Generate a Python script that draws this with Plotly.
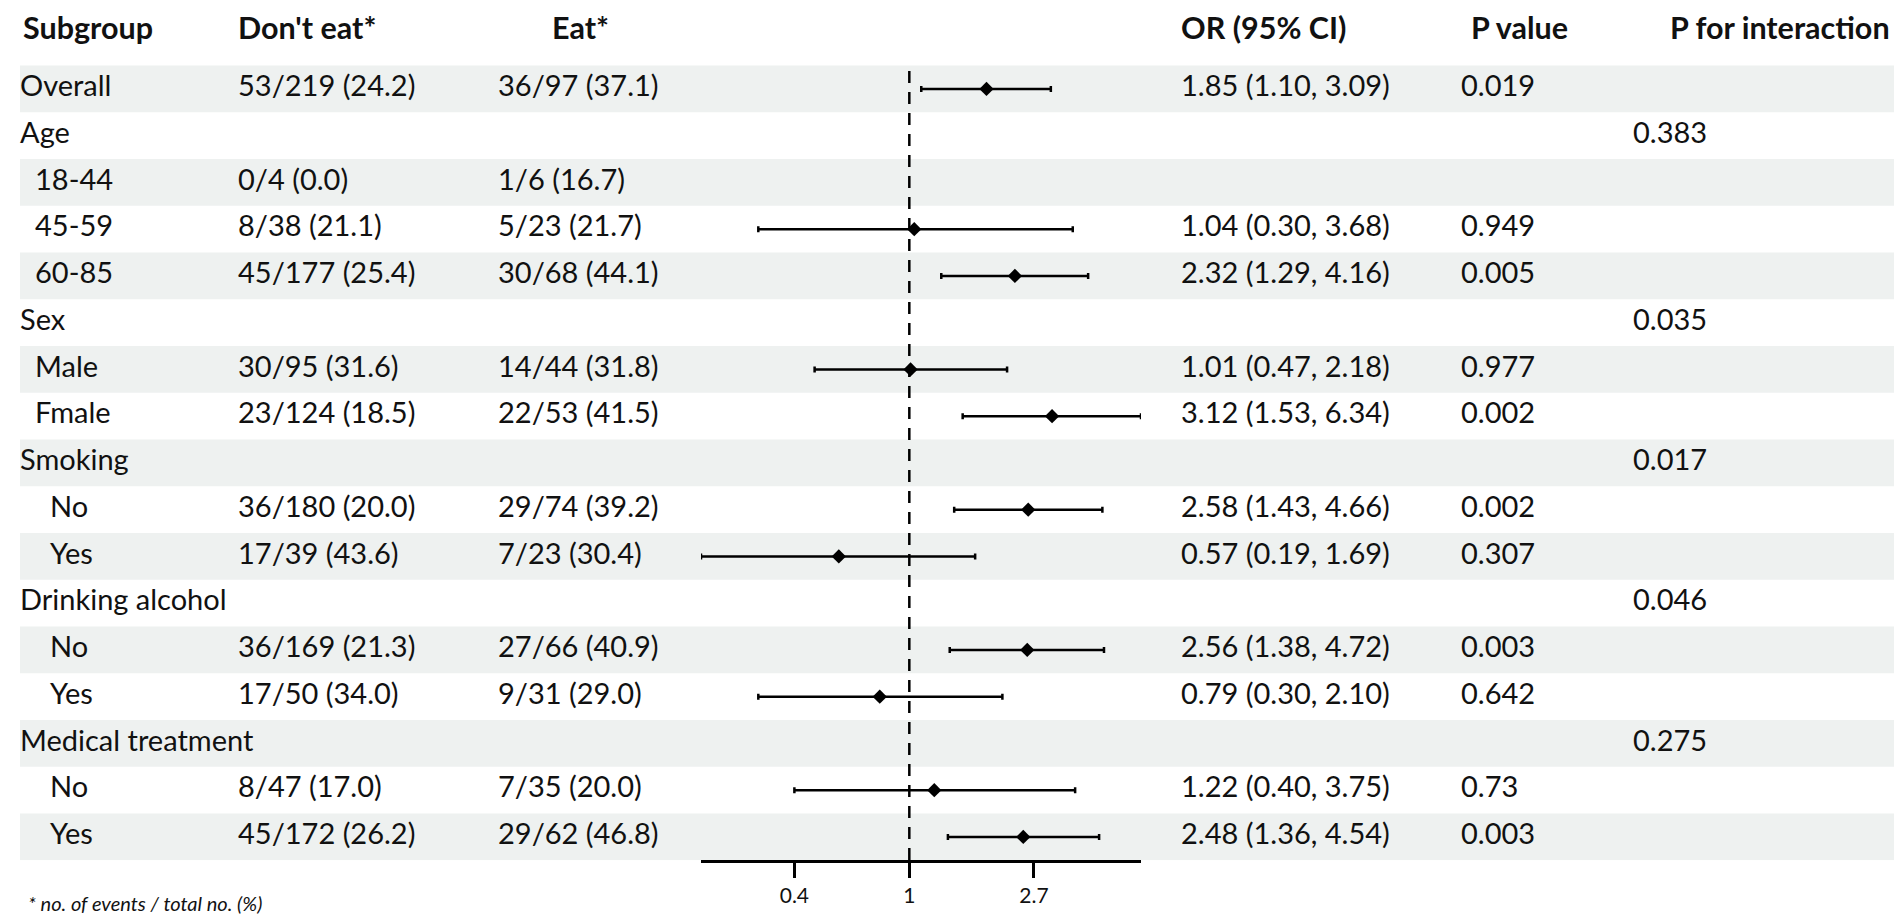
import math
import plotly.graph_objects as go

# --- table content ---
subgroups = ["Overall", "Age", "18-44", "45-59", "60-85", "Sex", "Male", "Fmale",
             "Smoking", "No", "Yes", "Drinking alcohol", "No", "Yes",
             "Medical treatment", "No", "Yes"]
levels = [0, 0, 1, 1, 1, 0, 1, 1, 0, 2, 2, 0, 2, 2, 0, 2, 2]
dont_eat = ["53/219 (24.2)", "", "0/4 (0.0)", "8/38 (21.1)", "45/177 (25.4)", "",
            "30/95 (31.6)", "23/124 (18.5)", "", "36/180 (20.0)", "17/39 (43.6)", "",
            "36/169 (21.3)", "17/50 (34.0)", "", "8/47 (17.0)", "45/172 (26.2)"]
eat = ["36/97 (37.1)", "", "1/6 (16.7)", "5/23 (21.7)", "30/68 (44.1)", "",
       "14/44 (31.8)", "22/53 (41.5)", "", "29/74 (39.2)", "7/23 (30.4)", "",
       "27/66 (40.9)", "9/31 (29.0)", "", "7/35 (20.0)", "29/62 (46.8)"]
odds = [1.85, None, None, 1.04, 2.32, None, 1.01, 3.12, None, 2.58, 0.57, None,
        2.56, 0.79, None, 1.22, 2.48]
ci_low = [1.10, None, None, 0.30, 1.29, None, 0.47, 1.53, None, 1.43, 0.19, None,
          1.38, 0.30, None, 0.40, 1.36]
ci_high = [3.09, None, None, 3.68, 4.16, None, 2.18, 6.34, None, 4.66, 1.69, None,
           4.72, 2.10, None, 3.75, 4.54]
p_value = ["0.019", "", "", "0.949", "0.005", "", "0.977", "0.002", "", "0.002",
           "0.307", "", "0.003", "0.642", "", "0.73", "0.003"]
p_inter = ["", "0.383", "", "", "", "0.035", "", "", "0.017", "", "", "0.046",
           "", "", "0.275", "", ""]
headers = ["Subgroup", "Don't eat*", "Eat*", "OR (95% CI)", "P value", "P for interaction"]
tick_vals = [0.4, 1, 2.7]
footnote = "* no. of events / total no. (%)"

W, H = 1902, 923
FONT = "Lato"
rows = list(range(len(subgroups)))

or_text = ["" if o is None else f"{o:.2f} ({l:.2f}, {h:.2f})"
           for o, l, h in zip(odds, ci_low, ci_high)]

fig = go.Figure()

# text columns (x in pixels on a hidden axis)
def text_col(x, texts, size=29, bold=False, y=None):
    fig.add_trace(go.Scatter(
        x=x if isinstance(x, list) else [x] * len(texts),
        y=rows if y is None else y,
        text=[f"<b>{t}</b>" if bold else t for t in texts],
        mode="text", textposition="middle right",
        textfont=dict(family=FONT, size=size, color="#111"),
        hoverinfo="skip", showlegend=False, xaxis="x", yaxis="y"))

text_col([12 + 15 * lv for lv in levels], subgroups)
text_col(230, dont_eat)
text_col(490, eat)
text_col(1173, or_text)
text_col(1453, p_value)
text_col(1625, p_inter)
text_col([15, 230, 544, 1173, 1463, 1662], headers, size=30.5, bold=True,
         y=[-1.22] * len(headers))

# forest marks: OR diamonds with 95% CI whiskers
fx, fy, ep, em = [], [], [], []
for i, (o, l, h) in enumerate(zip(odds, ci_low, ci_high)):
    if o is None:
        continue
    fx.append(o)
    fy.append(i)
    ep.append(h - o)
    em.append(o - l)

fig.add_trace(go.Scatter(
    x=fx, y=fy, mode="markers", xaxis="x2", yaxis="y",
    marker=dict(symbol="diamond", size=11, color="black"),
    error_x=dict(type="data", symmetric=False, array=ep, arrayminus=em,
                 color="black", thickness=2.5, width=3),
    hoverinfo="skip", showlegend=False))

# row stripes
for i in rows:
    if i % 2 == 0:
        fig.add_shape(type="rect", xref="paper", yref="y", x0=12 / W, x1=1893 / W,
                      y0=i - 0.5, y1=i + 0.5, fillcolor="#eef1f0",
                      line=dict(width=0), layer="below")

# reference line at OR = 1
fig.add_shape(type="line", xref="x2", yref="y", x0=1, x1=1, y0=-0.38, y1=len(rows) - 0.5,
              line=dict(color="black", width=2.5, dash="12px,9px"))

fig.add_annotation(text=f"<i>{footnote}</i>", xref="paper", yref="paper",
                   x=18 / W, y=(H - 895) / H, xanchor="left", yanchor="middle",
                   showarrow=False, font=dict(family=FONT, size=20, color="#111"))

row_px = 46.75
y_top = 57.5
y_bottom = y_top + row_px * len(rows)
fig.update_layout(
    width=W, height=H, margin=dict(l=0, r=0, t=0, b=0),
    paper_bgcolor="white", plot_bgcolor="rgba(0,0,0,0)",
    xaxis=dict(domain=[0, 1], range=[0, W], visible=False, fixedrange=True),
    xaxis2=dict(domain=[693 / W, 1133 / W], type="log", anchor="y",
                range=[math.log10(0.19), math.log10(6.34)],
                showline=True, linecolor="black", linewidth=3,
                ticks="outside", ticklen=15, tickwidth=2.5, tickcolor="black",
                tickvals=tick_vals, ticktext=[str(t) for t in tick_vals],
                tickfont=dict(family=FONT, size=21, color="#111"),
                showgrid=False, zeroline=False),
    # row index axis: bottom of last stripe sits on the forest axis line
    yaxis=dict(domain=[(H - y_bottom) / H, 1],
               range=[len(rows) - 0.5, -0.5 - y_top / row_px],
               visible=False, fixedrange=True),
)

fig.write_html("out.html")
